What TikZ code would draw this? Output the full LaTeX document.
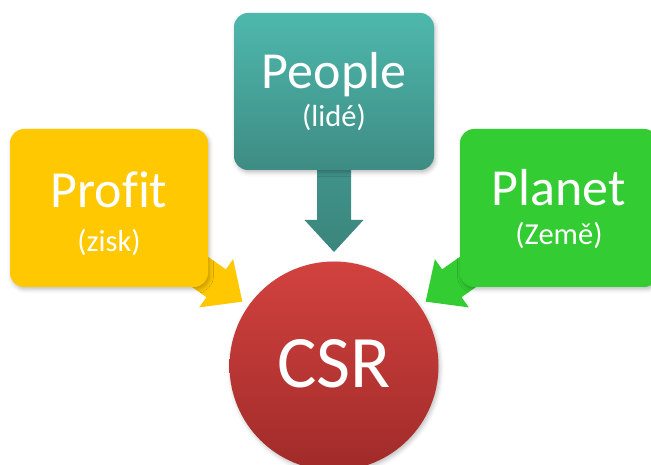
\documentclass[tikz,border=0pt]{standalone}
\usepackage{fontspec}
\setmainfont{Carlito}[Ligatures=NoCommon]
\usetikzlibrary{calc,backgrounds,shadows.blur}

\definecolor{gold}{HTML}{FFC800}
\definecolor{tealtop}{HTML}{4EB8AD}
\definecolor{tealbot}{HTML}{3E8C83}
\definecolor{leaf}{HTML}{33CC33}
\definecolor{redtop}{HTML}{D2423F}
\definecolor{redbot}{HTML}{A02B29}

\tikzset{
  card/.style={rounded corners=14pt, minimum width=198pt, minimum height=158pt,
    inner sep=0pt, draw=none,
    blur shadow={shadow xshift=1.5pt, shadow yshift=-2.5pt,
                 shadow blur radius=4pt, shadow opacity=25}},
  hub/.style={circle, minimum size=209pt, inner sep=0pt, draw=none,
    top color=redtop, bottom color=redbot,
    blur shadow={shadow xshift=1.5pt, shadow yshift=-2.5pt,
                 shadow blur radius=4pt, shadow opacity=25}},
  title/.style={text=white, font=\fontsize{52}{52}\selectfont, anchor=base, inner sep=0pt},
  sub/.style={text=white, font=\fontsize{30.5}{30.5}\selectfont, anchor=base, inner sep=0pt},
  hubtext/.style={text=white, font=\fontsize{74}{74}\selectfont, anchor=base, inner sep=0pt},
}

% block arrow from #1 (tail) to #2 (tip), painted with options #3
\newcommand\blockarrow[3]{%
  \coordinate (ba-h) at ($(#2)!32pt!(#1)$);
  \path[#3] ($(#1)!17pt!90:(#2)$) -- ($(ba-h)!17pt!90:(#2)$)
    -- ($(ba-h)!29.5pt!90:(#2)$) -- (#2) -- ($(ba-h)!29.5pt!-90:(#2)$)
    -- ($(ba-h)!17pt!-90:(#2)$) -- ($(#1)!17pt!-90:(#2)$) -- cycle;}

\begin{document}
\begin{tikzpicture}[x=1pt,y=-1pt]
  \useasboundingbox (0,0) rectangle (651,465);
  \clip (0,0) rectangle (651,465);

  % the three pillars
  \node[card, fill=gold] (profit) at (109,208) {};
  \node[card, top color=tealtop, bottom color=tealbot,
        minimum width=200pt, minimum height=157pt] (people) at (334,91.5) {};
  \node[card, fill=leaf] (planet) at (559,208) {};

  % centre
  \node[hub] (csr) at (334,366) {};

  % labels
  \node[title] (profitT) at ($(profit.center)+(0,0)$) {Prof\kern0pt it};
  \node[sub]   (profitS) at ($(profit.center)+(0,44)$) {(zisk)};
  \node[title] (peopleT) at ($(people.center)+(0,-2.5)$) {People};
  \node[sub]   (peopleS) at ($(people.center)+(0,35.5)$) {(lidé)};
  \node[title] (planetT) at ($(planet.center)+(0,-2)$) {Planet};
  \node[sub]   (planetS) at ($(planet.center)+(0,37)$) {(Země)};
  \node[hubtext] (csrT) at ($(csr.center)+(0,21)$) {CSR};

  % arrows towards the centre, behind the boxes
  \begin{scope}[on background layer]
    \coordinate (tipProfit) at ($(csr.center)!112pt!(profit.center)$);
    \coordinate (tipPeople) at ($(csr.center)!114pt!(people.center)$);
    \coordinate (tipPlanet) at ($(csr.center)!112pt!(planet.center)$);
    \blockarrow{profit.center}{tipProfit}{fill=gold}
    \blockarrow{people.center}{tipPeople}{top color=tealtop!45!tealbot, bottom color=tealbot!95!black}
    \blockarrow{planet.center}{tipPlanet}{fill=leaf}
  \end{scope}
\end{tikzpicture}
\end{document}
